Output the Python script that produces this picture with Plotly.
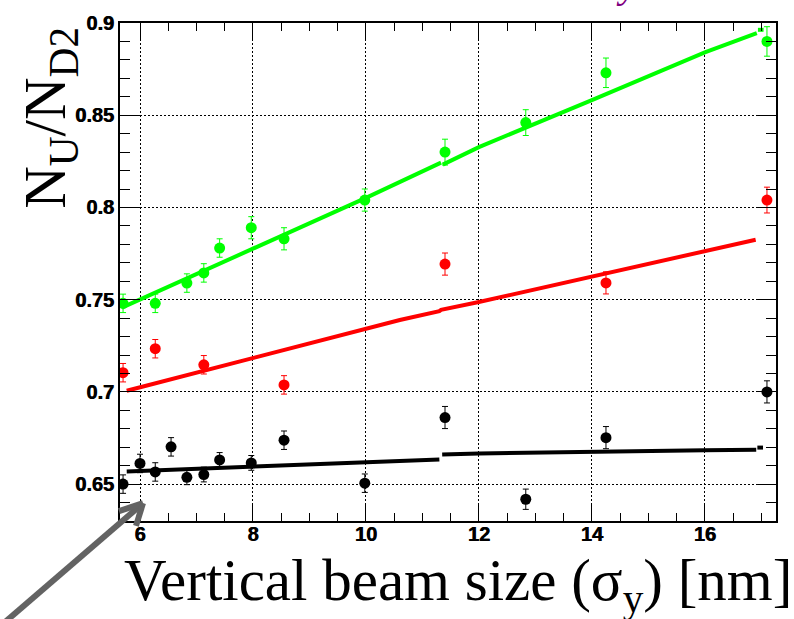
import plotly.graph_objects as go

# ---------------- data ----------------
green_x = [5.70, 6.27, 6.83, 7.13, 7.41, 7.97, 8.55, 9.98, 11.40, 12.83, 14.25, 17.10]
green_y = [0.748, 0.748, 0.759, 0.7645, 0.778, 0.789, 0.783, 0.804, 0.830, 0.846, 0.873, 0.890]
green_err = [0.005, 0.005, 0.005, 0.005, 0.005, 0.006, 0.006, 0.006, 0.007, 0.007, 0.008, 0.008]

red_x = [5.70, 6.27, 7.13, 8.55, 11.40, 14.25, 17.10]
red_y = [0.7104, 0.7234, 0.7147, 0.7038, 0.7693, 0.7591, 0.804]
red_err = [0.005, 0.005, 0.005, 0.005, 0.006, 0.006, 0.007]

black_x = [5.70, 6.00, 6.27, 6.55, 6.83, 7.13, 7.41, 7.97, 8.55, 9.98, 11.40, 12.83, 14.25, 17.10]
black_y = [0.650, 0.6612, 0.6566, 0.6702, 0.6537, 0.6552, 0.6631, 0.6615, 0.6738, 0.6505,
           0.6861, 0.6418, 0.6752, 0.700]
black_err = [0.005, 0.005, 0.005, 0.005, 0.004, 0.004, 0.004, 0.004, 0.005, 0.005,
             0.006, 0.0055, 0.006, 0.006]

# fitted model curves (segments separated by None)
green_fit_x = [5.68, 8.0, 10.0, 11.33, None, 11.36, 12.0, 14.0, 16.0, 16.92, None, 16.94, 17.04]
green_fit_y = [0.7457, 0.7776, 0.8052, 0.8243, None, 0.8232, 0.8327, 0.8582, 0.8841, 0.8945, None, 0.8963, 0.8963]

red_fit_x = [5.765, 8.0, 10.6, 11.3, 11.33, 12.0, 14.0, 16.9]
red_fit_y = [0.7006, 0.7183, 0.739, 0.7438, 0.7445, 0.7487, 0.7625, 0.7825]

black_fit_x = [5.765, 10.6, 11.3, None, 11.35, 12.0, 16.0, 16.91, None, 16.93, 17.03]
black_fit_y = [0.6568, 0.6627, 0.6634, None, 0.6661, 0.6666, 0.6684, 0.6686, None, 0.6698, 0.6698]

x_tickvals = [6, 8, 10, 12, 14, 16]
x_ticklabels = ["6", "8", "10", "12", "14", "16"]
y_tickvals = [0.65, 0.70, 0.75, 0.80, 0.85, 0.90]
y_ticklabels = ["0.65", "0.7", "0.75", "0.8", "0.85", "0.9"]

x_range = [5.646, 17.26]
y_range = [0.63, 0.9]

# ---------------- figure ----------------
W, H = 794, 619
ML, MR, MT, MB = 120, 18, 17, 98
PW, PH = W - ML - MR, H - MT - MB


def px2paper(px, py):
    return (px - ML) / PW, (H - MB - py) / PH


fig = go.Figure()

GREEN = "#00ff00"
RED = "#ff0000"
BLACK = "#000000"

for fx, fy, col in [(green_fit_x, green_fit_y, GREEN),
                    (red_fit_x, red_fit_y, RED),
                    (black_fit_x, black_fit_y, BLACK)]:
    fig.add_trace(go.Scatter(x=fx, y=fy, mode="lines",
                             line=dict(color=col, width=4),
                             connectgaps=False, hoverinfo="skip", showlegend=False))

for xs, ys, es, col in [(green_x, green_y, green_err, GREEN),
                        (red_x, red_y, red_err, RED),
                        (black_x, black_y, black_err, BLACK)]:
    fig.add_trace(go.Scatter(x=xs, y=ys, mode="markers",
                             marker=dict(color=col, size=11, line=dict(width=0)),
                             error_y=dict(type="data", array=es, visible=True,
                                          color=col, thickness=1, width=3),
                             showlegend=False))

tickfont = dict(family="Liberation Sans, Arial, sans-serif", size=20, color="black",
                weight=700, shadow="0.6px 0px 0px black")

fig.update_xaxes(range=x_range, tickmode="array", tickvals=x_tickvals,
                 ticktext=["<b>%s</b>" % t for t in x_ticklabels],
                 ticks="inside", ticklen=16,
                 tickwidth=1, tickcolor="black", showline=True, linecolor="black",
                 linewidth=2, mirror="ticks", showgrid=True, gridcolor="black",
                 gridwidth=1, griddash="2px,2px", zeroline=False, tickfont=tickfont,
                 ticklabelstandoff=-6,
                 minor=dict(dtick=0.5, tick0=0, ticks="inside", ticklen=8,
                            tickwidth=1, tickcolor="black", showgrid=False))
fig.update_yaxes(range=y_range, tickmode="array", tickvals=y_tickvals,
                 ticktext=["<b>%s</b>" % t for t in y_ticklabels],
                 ticks="inside", ticklen=20,
                 tickwidth=1, tickcolor="black", showline=True, linecolor="black",
                 linewidth=2, mirror="ticks", showgrid=True, gridcolor="black",
                 gridwidth=1, griddash="2px,2px", zeroline=False, tickfont=tickfont,
                 minor=dict(dtick=0.01, tick0=0, ticks="inside", ticklen=10,
                            tickwidth=1, tickcolor="black", showgrid=False))

annotations = []
# y-axis title
ax, ay = px2paper(49, 113)
annotations.append(dict(text="N<sub>U</sub>/N<sub>D2</sub>", x=ax, y=ay, xref="paper", yref="paper",
                        xanchor="center", yanchor="middle", textangle=-90, showarrow=False,
                        font=dict(family="Liberation Serif, Times New Roman, serif", size=59,
                                  color="black")))
# x-axis title
tx, ty = px2paper(458, 545)
annotations.append(dict(text="Vertical beam size (σ<sub>y</sub>) [nm]", x=tx, y=ty,
                        xref="paper", yref="paper", xanchor="center", yanchor="top",
                        showarrow=False,
                        font=dict(family="Liberation Serif, Times New Roman, serif", size=59,
                                  color="black")))
# cut-off purple glyph at the top
gx, gy = px2paper(627, 2)
annotations.append(dict(text="<i>y</i>", x=gx, y=gy, xref="paper", yref="paper",
                        xanchor="center", yanchor="bottom", showarrow=False,
                        font=dict(family="Liberation Serif, serif", size=40, color="#800080")))

shapes = []
ARROW = "#636363"
tip = px2paper(143, 503)
for start in [(-5, 632), (119, 511), (136, 526)]:
    s = px2paper(*start)
    shapes.append(dict(type="line", xref="paper", yref="paper", x0=s[0], y0=s[1],
                       x1=tip[0], y1=tip[1], line=dict(color=ARROW, width=6), layer="above"))

fig.update_layout(width=W, height=H, margin=dict(l=ML, r=MR, t=MT, b=MB),
                  paper_bgcolor="white", plot_bgcolor="white",
                  annotations=annotations, shapes=shapes, showlegend=False)

fig.write_html("out.html", config={"displayModeBar": False},
               post_script="document.body.style.margin='0';document.body.style.overflow='hidden';")
